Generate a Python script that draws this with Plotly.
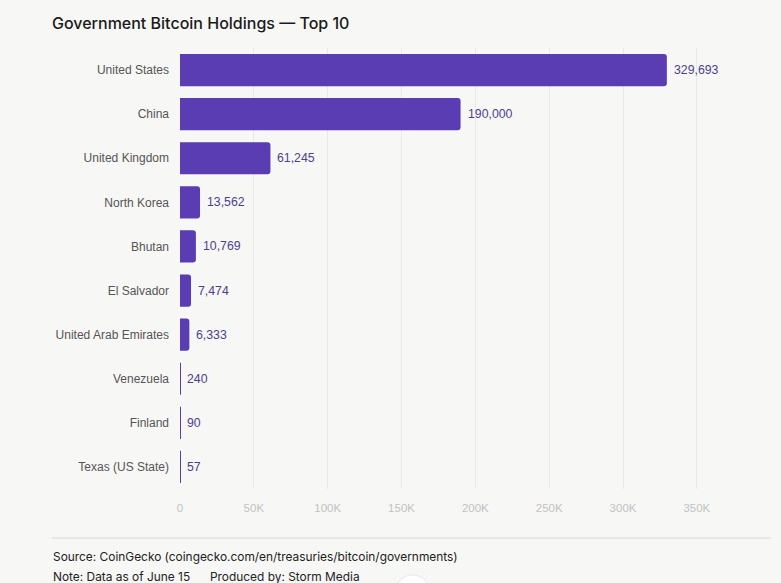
import plotly.graph_objects as go

countries = ["United States", "China", "United Kingdom", "North Korea", "Bhutan",
             "El Salvador", "United Arab Emirates", "Venezuela", "Finland", "Texas (US State)"]
holdings = [329693, 190000, 61245, 13562, 10769, 7474, 6333, 240, 90, 57]
tick_vals = [0, 50000, 100000, 150000, 200000, 250000, 300000, 350000]
tick_text = ["0", "50K", "100K", "150K", "200K", "250K", "300K", "350K"]

BG = "#f7f7f5"
W, H = 781, 583
L, R, T, B = 180, 62, 48, 94
PH = H - T - B
PW = W - L - R

fig = go.Figure(go.Bar(
    x=holdings, y=countries, orientation="h",
    marker=dict(color="#5b3db3", line=dict(width=0)),
    hoverinfo="skip",
))

for c, v in zip(countries, holdings):
    fig.add_annotation(x=v, y=c, text=f"{v:,}", xanchor="left", xshift=5,
                       showarrow=False,
                       font=dict(family="Liberation Sans, Arial, sans-serif", size=12.3, color="#4b3f8f"))

fig.update_layout(
    width=W, height=H, paper_bgcolor=BG, plot_bgcolor=BG,
    margin=dict(l=L, r=R, t=T, b=B),
    showlegend=False, bargap=0.27, barcornerradius=3,
    title=dict(text="Government Bitcoin Holdings — Top 10", x=52/W, xanchor="left",
               y=1-23/H, yanchor="middle",
               font=dict(family="Inter, sans-serif", size=16, color="#1a1a1a", weight=500)),
    xaxis=dict(range=[0, 365000], tickvals=tick_vals, ticktext=tick_text,
               showgrid=True, gridcolor="#e9e9e7", gridwidth=1, zeroline=False,
               showline=False, ticks="", ticklen=0, ticklabelstandoff=10,
               tickfont=dict(family="Liberation Sans, Arial, sans-serif", size=11.5, color="#c2c2c2")),
    yaxis=dict(autorange="reversed", showgrid=False, zeroline=False, ticks="",
               ticklabelstandoff=10,
               tickfont=dict(family="Liberation Sans, Arial, sans-serif", size=12, color="#555555")),
    font=dict(family="Liberation Sans, Arial, sans-serif"),
)

def px(x):
    return (x - L) / PW

def py(y):
    return -(y - (H - B)) / PH

fig.add_shape(type="line", xref="paper", yref="paper",
              x0=px(52), x1=px(771), y0=py(538), y1=py(538),
              line=dict(color="#d8d8d6", width=1))

foot = dict(family="Inter, sans-serif", size=11.9, color="#222222")
fig.add_annotation(text="Source: CoinGecko (coingecko.com/en/treasuries/bitcoin/governments)",
                   xref="paper", yref="paper", x=px(51), xanchor="left",
                   y=py(556), yanchor="middle", showarrow=False, font=foot)
fig.add_annotation(text="Note: Data as of June 15",
                   xref="paper", yref="paper", x=px(51), xanchor="left",
                   y=py(576), yanchor="middle", showarrow=False, font=foot)
fig.add_annotation(text="Produced by: Storm Media",
                   xref="paper", yref="paper", x=px(208), xanchor="left",
                   y=py(576), yanchor="middle", showarrow=False, font=foot)

fig.add_shape(type="circle", xref="paper", yref="paper",
              x0=px(395), x1=px(430), y0=py(575), y1=py(610),
              fillcolor="#ffffff", line=dict(color="#e6e6e6", width=1))

fig.write_html("out.html")
